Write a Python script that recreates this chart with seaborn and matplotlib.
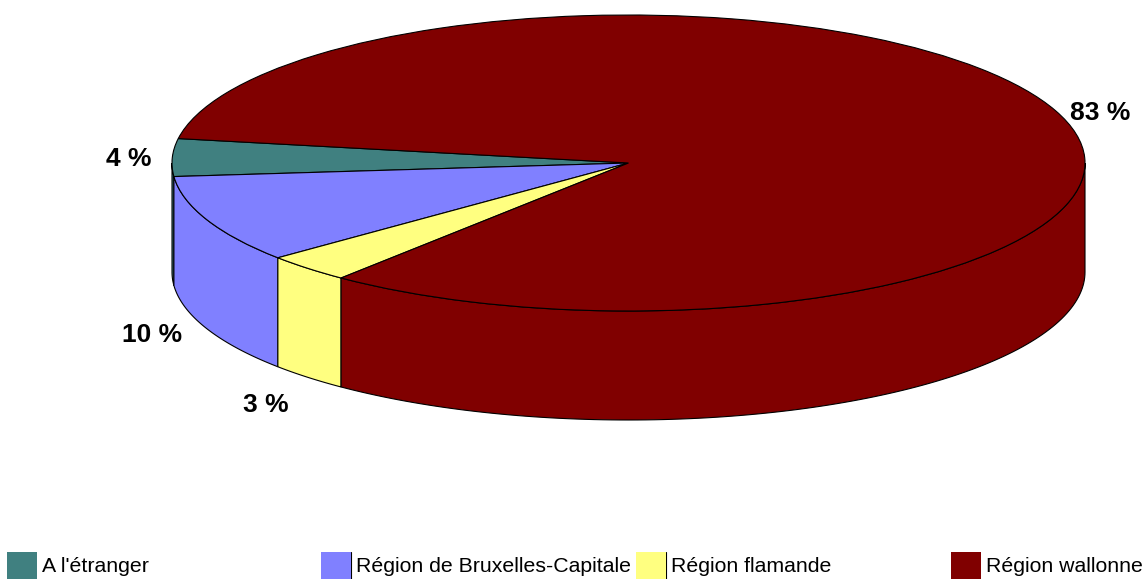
import numpy as np
import seaborn as sns
import matplotlib.pyplot as plt
from matplotlib.lines import Line2D
from matplotlib.patches import Patch

categories = ["A l'étranger", "Région de Bruxelles-Capitale", "Région flamande", "Région wallonne"]
values = [4.1, 9.6, 3.1, 83.2]
labels = ["4 %", "10 %", "3 %", "83 %"]
colors = ["#408080", "#8080FF", "#FFFF80", "#800000"]

# pixel layout of the reference
W, H = 1147, 579
CX, CY, RX, RY, DEPTH = 628.5, 163, 456.5, 148, 109
START = 170.5
label_px = [(128.5, 159), (152.5, 334.5), (265.5, 405), (1100, 112.5)]
legend_px = [7, 321, 636, 951]
swatch_lines = [321.5, 351, 636.5, 666, 951.5]

sns.set_theme(style="white", palette=sns.color_palette(colors))
plt.rcParams['font.family'] = ['Liberation Sans', 'DejaVu Sans']

fig = plt.figure(figsize=(W / 100, H / 100), dpi=100)
ax = fig.add_axes([0, 0, 1, 1])

ax.pie(values, colors=colors, startangle=START, radius=1,
       wedgeprops=dict(edgecolor="black", linewidth=0.8, zorder=3))
ax.set_aspect("auto")
ax.set_xlim((0 - CX) / RX, (W - CX) / RX)
ax.set_ylim((CY - H) / RY, CY / RY)

# side wall, only the front half of the disc is visible
d = DEPTH / RY
edges = START + np.cumsum([0] + values) * 3.6
for i, c in enumerate(colors):
    a0, a1 = max(edges[i], 180), min(edges[i + 1], 360)
    if a1 <= a0:
        continue
    t = np.radians(np.linspace(a0, a1, 120))
    x = np.concatenate([np.cos(t), np.cos(t[::-1])])
    y = np.concatenate([np.sin(t), np.sin(t[::-1]) - d])
    ax.fill(x, y, facecolor=c, edgecolor="black", linewidth=0.8, zorder=2)

for lab, (px, py) in zip(labels, label_px):
    ax.text((px - CX) / RX, (CY - py) / RY, lab, ha="center", va="center",
            fontsize=19, fontweight="bold", color="black")

for cat, c, px in zip(categories, colors, legend_px):
    fig.legend(handles=[Patch(facecolor=c, edgecolor="none")], labels=[cat],
               loc="lower left", bbox_to_anchor=(px / W, 0), frameon=False,
               fontsize=15.3, handlelength=1.42, handleheight=1.59,
               handletextpad=0.24, borderpad=0, borderaxespad=0, labelcolor="black")

for px in swatch_lines:
    fig.add_artist(Line2D([px / W, px / W], [0, 27 / H], color="black", linewidth=0.8))

fig.savefig("out.png", dpi=100)
